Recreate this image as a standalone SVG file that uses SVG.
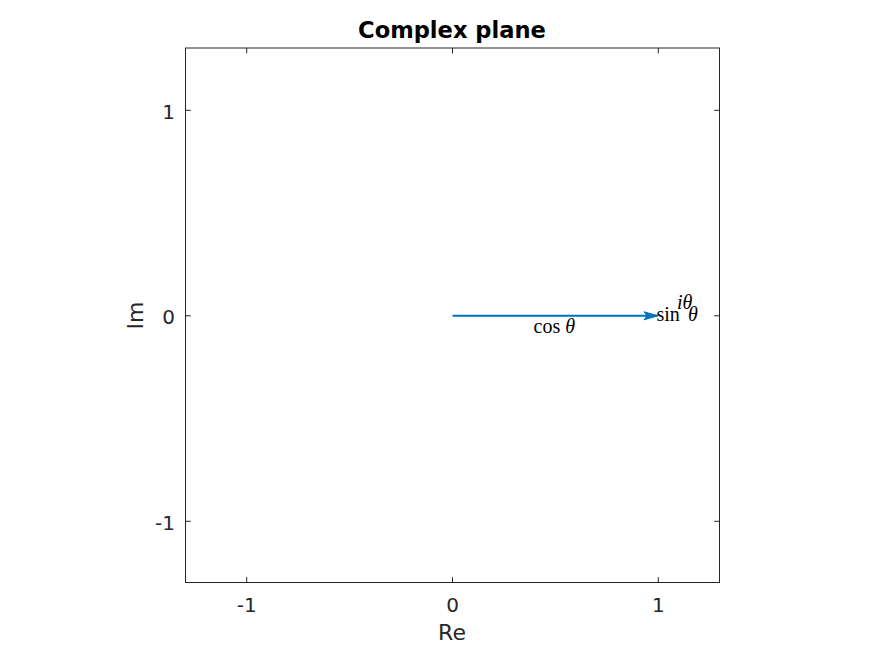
<svg xmlns="http://www.w3.org/2000/svg" width="874" height="655" viewBox="0 0 874 655">
<style>
.ax{stroke:#262626;stroke-width:1;fill:none}
.tk{font-family:"DejaVu Sans",sans-serif;font-size:20px;fill:#262626}
.lb{font-family:"DejaVu Sans",sans-serif;font-size:22px;fill:#262626}
.ttl{font-family:"DejaVu Sans",sans-serif;font-size:22.6px;font-weight:bold;fill:#000}
.mt{font-family:"Liberation Serif","DejaVu Serif",serif;font-size:20px;fill:#000}
.vec{stroke:#0072BD;stroke-width:2;fill:none}
</style>
<rect width="874" height="655" fill="#fff"/>
<g id="axes">
<rect class="ax" x="185.5" y="48" width="534" height="534.5"/>
<path class="ax" d="M246.7 582.5v-5.3M452.5 582.5v-5.3M658.3 582.5v-5.3M246.7 48v5.3M452.5 48v5.3M658.3 48v5.3M185.5 110.3h5.3M185.5 315.8h5.3M185.5 521.3h5.3M719.5 110.3h-5.3M719.5 315.8h-5.3M719.5 521.3h-5.3"/>
<g class="tk" text-anchor="middle">
<text x="246.7" y="611.5">-1</text>
<text x="452.5" y="611.5">0</text>
<text x="658.3" y="611.5">1</text>
</g>
<g class="tk" text-anchor="end">
<text x="175" y="119">1</text>
<text x="175" y="324">0</text>
<text x="175" y="529.5">-1</text>
</g>
<text class="lb" x="452" y="640" text-anchor="middle">Re</text>
<text class="lb" transform="translate(143 315.5) rotate(-90)" text-anchor="middle">Im</text>
<text class="ttl" x="452" y="37.5" text-anchor="middle">Complex plane</text>
</g>
<g id="connectors">
<line class="vec" x1="452.5" y1="315.8" x2="657" y2="315.8"/>
<path d="M658 315.8 L644 311.8 L647 315.8 L644 319.8 Z" fill="#0072BD" stroke="#0072BD" stroke-width="1"/>
</g>
<g id="labels">
<text class="mt" x="533.5" y="332.5">cos <tspan font-style="italic">θ</tspan></text>
<text class="mt" x="656.5" y="321">sin</text>
<text class="mt" x="677" y="309" font-size="13" font-style="italic">iθ</text>
<text class="mt" x="688" y="321" font-style="italic">θ</text>
</g>
</svg>
